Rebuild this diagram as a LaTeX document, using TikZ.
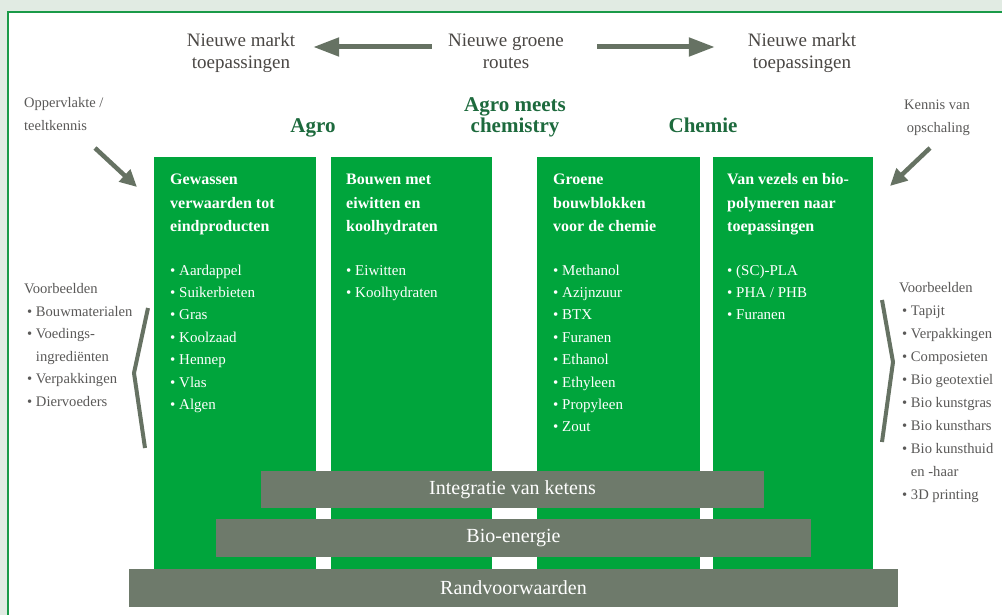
\documentclass[tikz,border=0pt]{standalone}
\usepackage{fontspec}
\setmainfont{Liberation Serif}
\usetikzlibrary{arrows.meta}
\definecolor{bggreen}{HTML}{E1EBE3}
\definecolor{framegreen}{HTML}{1A9A48}
\definecolor{colgreen}{HTML}{00A53C}
\definecolor{bargray}{HTML}{6E7A6B}
\definecolor{arrgray}{HTML}{667263}
\definecolor{headgreen}{HTML}{1D6A3D}
\definecolor{toptext}{HTML}{4A4744}
\definecolor{sidetext}{HTML}{5A5958}
\tikzset{
  colbox/.style={fill=colgreen, draw=none, inner sep=0, minimum width=#1, minimum height=413},
  barbox/.style={fill=bargray, draw=none, text=white, inner sep=0, minimum width=#1,
    font=\fontsize{20}{24}\selectfont},
  toptxt/.style={anchor=base, inner sep=0, text=toptext, minimum width=130,
    text height=13, text depth=4, font=\fontsize{19}{22}\selectfont},
  headtxt/.style={anchor=base, inner sep=0, text=headgreen, font=\bfseries\fontsize{21}{23}\selectfont},
  colhead/.style={anchor=base west, inner sep=0, text=white, font=\bfseries\fontsize{16}{23}\selectfont},
  colitem/.style={anchor=base west, inner sep=0, text=white, font=\fontsize{15}{22}\selectfont},
  sidetxt/.style={anchor=base west, inner sep=0, text=sidetext, font=\fontsize{14.6}{22}\selectfont},
  cornertxt/.style={inner sep=0, text=sidetext, font=\fontsize{14.5}{22}\selectfont},
  bigarrow/.style={draw=arrgray, line width=5, -{Triangle[length=26pt,width=18pt]}},
  smallarrow/.style={draw=arrgray, line width=4.5, -{Triangle[length=17pt,width=16pt]}},
  bracket/.style={draw=arrgray, line width=4, line join=miter},
}
\begin{document}
\begin{tikzpicture}[x=1pt,y=-1pt]
\useasboundingbox (0,0) rectangle (1002,615);
\fill[bggreen] (0,0) rectangle (1002,615);
\draw[framegreen, line width=2, fill=white] (8,12) rectangle (1012,640);

% top labels
\node[toptxt] (mL1) at (241,47) {Nieuwe markt};
\node[toptxt] (mL2) at (241,69) {toepassingen};
\node[toptxt] (gr1) at (506,47) {Nieuwe groene};
\node[toptxt] (gr2) at (506,69) {routes};
\node[toptxt] (mR1) at (802,47) {Nieuwe markt};
\node[toptxt] (mR2) at (802,69) {toepassingen};
\draw[bigarrow, shorten <=9pt, shorten >=7pt] ([yshift=-4.5pt]gr1.west) -- ([yshift=-4.5pt]mL1.east);
\draw[bigarrow, shorten <=26pt, shorten >=22pt] ([yshift=-4.5pt]gr1.east) -- ([yshift=-4.5pt]mR1.west);

% headings
\node[headtxt] (agro) at (313,133) {Agro};
\node[headtxt] (amc1) at (515,112) {Agro meets};
\node[headtxt] (amc2) at (515,133) {chemistry};
\node[headtxt] (chem) at (703,133) {Chemie};

% corner labels
\node[cornertxt, anchor=base west] (opp1) at (24,108) {Oppervlakte /};
\node[cornertxt, anchor=base west] (opp2) at (24,131) {teeltkennis};
\node[cornertxt, anchor=base east] (ken1) at (970,110) {Kennis van};
\node[cornertxt, anchor=base east] (ken2) at (970,133) {opschaling};
\coordinate (oppA) at (95,148);
\coordinate (oppB) at (137,187);
\coordinate (kenA) at (930,148);
\coordinate (kenB) at (890,186);
\draw[smallarrow] (oppA) -- (oppB);
\draw[smallarrow] (kenA) -- (kenB);

% columns
\node[colbox=162] (c1) at (235,363.5) {};
\node[colbox=161] (c2) at (411.5,363.5) {};
\node[colbox=163] (c3) at (618.5,363.5) {};
\node[colbox=160] (c4) at (793,363.5) {};

% column texts
\foreach \t [count=\i] in {Gewassen, verwaarden tot, eindproducten}
  \node[colhead] (c1h\i) at (170,{185+23*(\i-1)}) {\t};
\foreach \t [count=\i] in {Aardappel, Suikerbieten, Gras, Koolzaad, Hennep, Vlas, Algen}
  \node[colitem] (c1i\i) at (170,{275+22.4*(\i-1)}) {•~\t};

\foreach \t [count=\i] in {Bouwen met, eiwitten en, koolhydraten}
  \node[colhead] (c2h\i) at (346,{185+23*(\i-1)}) {\t};
\foreach \t [count=\i] in {Eiwitten, Koolhydraten}
  \node[colitem] (c2i\i) at (346,{275+22.4*(\i-1)}) {•~\t};

\foreach \t [count=\i] in {Groene, bouwblokken, voor de chemie}
  \node[colhead] (c3h\i) at (553,{185+23*(\i-1)}) {\t};
\foreach \t [count=\i] in {Methanol, Azijnzuur, BTX, Furanen, Ethanol, Ethyleen, Propyleen, Zout}
  \node[colitem] (c3i\i) at (553,{275+22.4*(\i-1)}) {•~\t};

\foreach \t [count=\i] in {Van vezels en bio-, polymeren naar, toepassingen}
  \node[colhead] (c4h\i) at (727,{185+23*(\i-1)}) {\t};
\foreach \t [count=\i] in {{(SC)-PLA}, {PHA / PHB}, Furanen}
  \node[colitem] (c4i\i) at (727,{275+22.4*(\i-1)}) {•~\t};

% bars
\node[barbox=503, minimum height=37] (integ) at (512.5,489.5) {Integratie van ketens};
\node[barbox=595, minimum height=38] (bio) at (513.5,538) {Bio-energie};
\node[barbox=769, minimum height=38] (rand) at (513.5,588) {Randvoorwaarden};

% left examples
\node[sidetxt] (lv) at (24,293) {Voorbeelden};
\node[sidetxt] (l1) at (27,316) {•~Bouwmaterialen};
\node[sidetxt] (l2) at (27,338.5) {•~Voedings-};
\node[sidetxt] (l3) at (27,361) {\hphantom{•~}ingrediënten};
\node[sidetxt] (l4) at (27,383.5) {•~Verpakkingen};
\node[sidetxt] (l5) at (27,406) {•~Diervoeders};
\draw[bracket] (148,308) -- (134,373) -- (145,448);

% right examples
\node[sidetxt] (rv) at (899,292) {Voorbeelden};
\foreach \t [count=\i] in {Tapijt, Verpakkingen, Composieten, Bio geotextiel, Bio kunstgras, Bio kunsthars, Bio kunsthuid}
  \node[sidetxt] (r\i) at (902,{315+23*(\i-1)}) {•~\t};
\node[sidetxt] (r8) at (902,476) {\hphantom{•~}en -haar};
\node[sidetxt] (r9) at (902,499) {•~3D printing};
\draw[bracket] (882,300) -- (893,362) -- (882,442);
\end{tikzpicture}
\end{document}
